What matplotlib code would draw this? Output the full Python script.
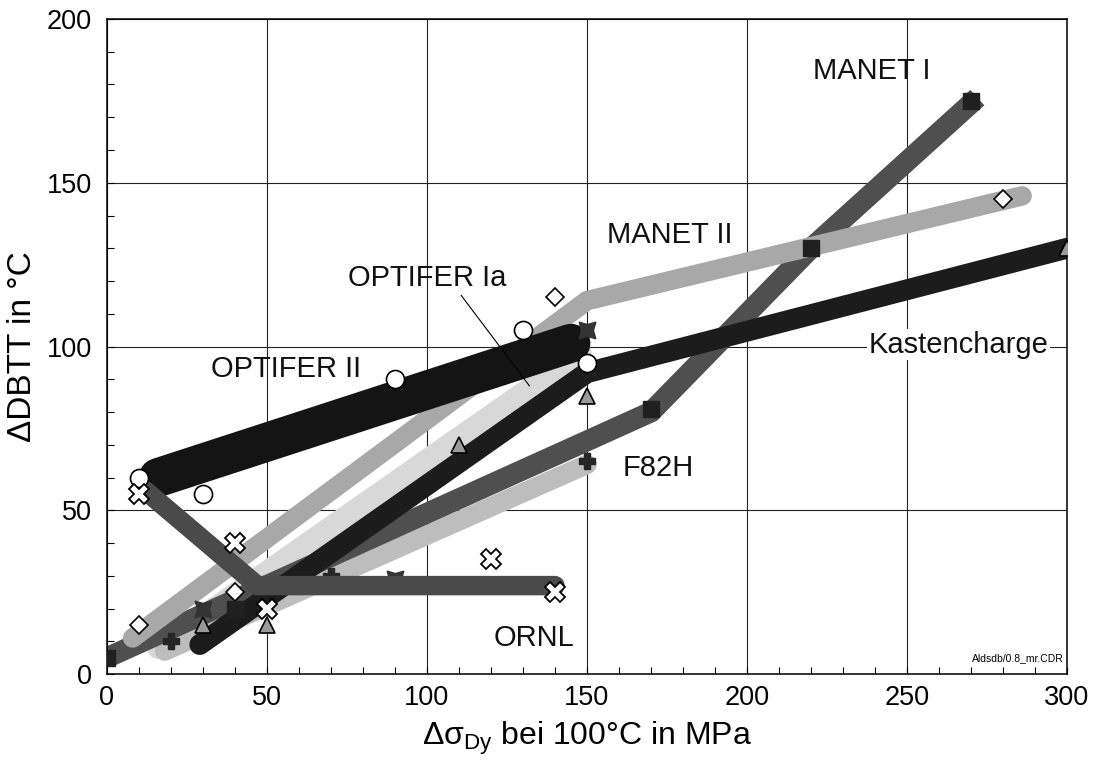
import matplotlib.pyplot as plt
from matplotlib.ticker import MultipleLocator

plt.rcParams['font.family'] = ['Liberation Sans', 'DejaVu Sans']
plt.rcParams['mathtext.fontset'] = 'custom'
plt.rcParams['mathtext.rm'] = 'Liberation Sans'
plt.rcParams['mathtext.it'] = 'Liberation Sans'

# band centre lines
optifer2_x = [16, 145]
optifer2_y = [60, 101]
ornl_x = [12, 47, 140]
ornl_y = [56, 27, 27]
manet1_x = [0, 170, 220, 272]
manet1_y = [5, 80, 130, 176]
manet2_x = [8, 150, 286]
manet2_y = [11, 114, 146]
kasten_x = [29, 150, 300]
kasten_y = [9, 92, 130]
f82h_x = [18, 150]
f82h_y = [7, 64]
optifer1a_x = [16, 148]
optifer1a_y = [8, 98]

# measured points
circ_x = [10, 30, 90, 130, 150]
circ_y = [60, 55, 90, 105, 95]
diam_x = [10, 40, 140, 280]
diam_y = [15, 25, 115, 145]
sq_x = [0, 40, 170, 220, 270]
sq_y = [5, 20, 81, 130, 175]
tri_x = [30, 50, 110, 150, 300]
tri_y = [15, 15, 70, 85, 130]
cross_x = [10, 40, 50, 120, 140]
cross_y = [55, 40, 20, 35, 25]
plus_x = [20, 70, 150]
plus_y = [10, 30, 65]
star_x = [30, 90, 150]
star_y = [20, 29, 105]

fig, ax = plt.subplots(figsize=(10.95, 7.69), dpi=100)
fig.subplots_adjust(left=0.0977, right=0.9744, bottom=0.1235, top=0.9753)

# bands, drawn bottom to top
ax.plot(optifer1a_x, optifer1a_y, color='#d8d8d8', lw=16, solid_capstyle='round', zorder=2)
ax.plot(f82h_x, f82h_y, color='#bdbdbd', lw=14, solid_capstyle='round', zorder=2.1)
ax.plot(manet1_x, manet1_y, color='#4f4f4f', lw=15, solid_capstyle='butt', solid_joinstyle='miter', zorder=2.2)
ax.plot(kasten_x, kasten_y, color='#1c1c1c', lw=15, solid_capstyle='round', zorder=2.3)
ax.plot(manet2_x, manet2_y, color='#a8a8a8', lw=14, solid_capstyle='round', zorder=2.4)
ax.plot(optifer2_x, optifer2_y, color='#141414', lw=28, solid_capstyle='round', zorder=2.5)
ax.plot(ornl_x, ornl_y, color='#4a4a4a', lw=14, solid_capstyle='round', zorder=2.7)

# markers
ax.plot(plus_x, plus_y, 'P', color='#262626', ms=12, zorder=2.6)
ax.plot(star_x, star_y, marker=(4, 1, 45), ls='none', color='#333333', ms=17, zorder=2.6)
ax.plot(circ_x, circ_y, 'o', mfc='white', mec='black', mew=1.2, ms=13, zorder=4)
ax.plot(diam_x, diam_y, 'D', mfc='white', mec='black', mew=1.2, ms=9, zorder=4)
ax.plot(sq_x, sq_y, 's', color='#202020', ms=11, zorder=4)
ax.plot(tri_x, tri_y, '^', mfc='#9a9a9a', mec='black', mew=1.2, ms=12, zorder=4)
ax.plot(cross_x, cross_y, 'X', mfc='white', mec='black', mew=1.3, ms=14, zorder=4)

# labels
lab = dict(fontsize=21, color='#111111', zorder=5)
ax.text(239, 184, 'MANET I', ha='center', va='center', **lab)
ax.text(176, 134, 'MANET II', ha='center', va='center', **lab)
ax.text(100, 121, 'OPTIFER Ia', ha='center', va='center', **lab)
ax.text(56, 93, 'OPTIFER II', ha='center', va='center', **lab)
ax.text(161, 63, 'F82H', ha='left', va='center', **lab)
ax.text(133.5, 11, 'ORNL', ha='center', va='center', **lab)
ax.text(266, 100.5, 'Kastencharge', ha='center', va='center',
        bbox=dict(facecolor='white', edgecolor='none', pad=1), **lab)
ax.plot([110.7, 132], [115.6, 88], color='black', lw=0.8, zorder=4.5)
ax.text(299, 5, 'Aldsdb/0.8_mr.CDR', ha='right', va='center', fontsize=7.5, zorder=5)

ax.set_xlim(0, 300)
ax.set_ylim(0, 200)
ax.xaxis.set_major_locator(MultipleLocator(50))
ax.yaxis.set_major_locator(MultipleLocator(50))
ax.xaxis.set_minor_locator(MultipleLocator(10))
ax.yaxis.set_minor_locator(MultipleLocator(10))
ax.grid(True, which='major', color='#222222', lw=0.8, zorder=0)
ax.set_axisbelow(True)
ax.tick_params(which='both', direction='in', length=5, width=0.8, labelsize=19.5)
ax.tick_params(axis='x', pad=8)
ax.tick_params(axis='y', pad=11)
for s in ax.spines.values():
    s.set_linewidth(1.1)

ax.set_xlabel(r'Δσ$_{\mathrm{Dy}}$ bei 100°C in MPa', fontsize=23, labelpad=6)
ax.set_ylabel('ΔDBTT in °C', fontsize=24, labelpad=6)

fig.savefig('out.png', dpi=100)
